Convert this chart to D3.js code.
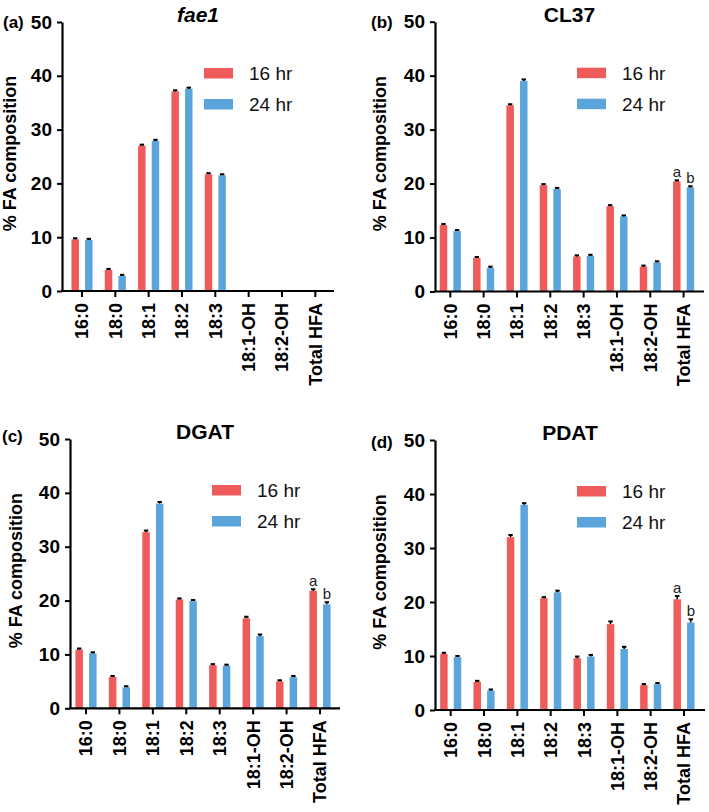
<!DOCTYPE html>
<html>
<head>
<meta charset="utf-8">
<script src="https://cdn.jsdelivr.net/npm/d3@7"></script>
<style>
  html, body { margin: 0; padding: 0; background: #ffffff; }
  svg { display: block; }
  text { font-family: "Liberation Sans", Arial, sans-serif; }
</style>
</head>
<body>
<svg id="chart" width="709" height="812"></svg>
<script>
// ---------------- data ----------------
const categories = ["16:0", "18:0", "18:1", "18:2", "18:3", "18:1-OH", "18:2-OH", "Total HFA"];
const seriesNames = ["16 hr", "24 hr"];
const yTickValues = [0, 10, 20, 30, 40, 50];

const fae1_16hr = [9.6, 3.9, 27.0, 37.1, 21.7, 0, 0, 0];
const fae1_24hr = [9.5, 2.8, 27.9, 37.6, 21.5, 0, 0, 0];
const fae1_err16 = [0.2, 0.2, 0.2, 0.2, 0.2, 0, 0, 0];
const fae1_err24 = [0.2, 0.2, 0.2, 0.2, 0.2, 0, 0, 0];

const cl37_16hr = [12.3, 6.2, 34.5, 19.7, 6.5, 15.8, 4.6, 20.4];
const cl37_24hr = [11.2, 4.4, 39.0, 19.0, 6.6, 13.9, 5.4, 19.3];
const cl37_err16 = [0.2, 0.2, 0.2, 0.2, 0.2, 0.2, 0.2, 0.2];
const cl37_err24 = [0.2, 0.2, 0.3, 0.2, 0.2, 0.2, 0.2, 0.2];

const dgat_16hr = [10.9, 5.8, 32.7, 20.2, 8.0, 16.7, 5.0, 21.8];
const dgat_24hr = [10.2, 3.9, 38.0, 19.9, 7.9, 13.4, 5.8, 19.3];
const dgat_err16 = [0.2, 0.2, 0.3, 0.2, 0.2, 0.3, 0.2, 0.3];
const dgat_err24 = [0.2, 0.2, 0.3, 0.2, 0.2, 0.3, 0.2, 0.4];

const pdat_16hr = [10.4, 5.2, 32.0, 20.7, 9.6, 15.9, 4.6, 20.5];
const pdat_24hr = [9.8, 3.6, 38.0, 21.8, 9.9, 11.3, 4.8, 16.2];
const pdat_err16 = [0.2, 0.2, 0.4, 0.2, 0.3, 0.5, 0.2, 0.6];
const pdat_err24 = [0.2, 0.2, 0.3, 0.3, 0.3, 0.4, 0.2, 0.6];

const sigLetters = ["a", "b"];   // Total HFA letters (16 hr, 24 hr)

const panelTitles = ["fae1", "CL37", "DGAT", "PDAT"];
const panelLabels = ["(a)", "(b)", "(c)", "(d)"];

// ---------------- styling / layout ----------------
const colors = ["#EF5A5A", "#5CA5DC"];
const layouts = [
  { axisX: 62,  c0: 82,    step: 33.33, axisEnd: 334, yZero: 291,   yTop: 22,   labelX: 3,   labelY: 28,  ylabX: 10 },
  { axisX: 435, c0: 450.3, step: 33.33, axisEnd: 704, yZero: 291.5, yTop: 21.7, labelX: 371, labelY: 28,  ylabX: 380 },
  { axisX: 70,  c0: 86,    step: 33.43, axisEnd: 340, yZero: 708.3, yTop: 439,  labelX: 2,   labelY: 442, ylabX: 15.5 },
  { axisX: 435, c0: 450.7, step: 33.33, axisEnd: 705, yZero: 710,   yTop: 440,  labelX: 371, labelY: 448, ylabX: 380 }
];
const panelData = [
  { v: [fae1_16hr, fae1_24hr], e: [fae1_err16, fae1_err24], letters: false, italic: true },
  { v: [cl37_16hr, cl37_24hr], e: [cl37_err16, cl37_err24], letters: true,  italic: false },
  { v: [dgat_16hr, dgat_24hr], e: [dgat_err16, dgat_err24], letters: true,  italic: false },
  { v: [pdat_16hr, pdat_24hr], e: [pdat_err16, pdat_err24], letters: true,  italic: false }
];

const svg = d3.select("#chart");

panelData.forEach((pd, pi) => {
  const L = layouts[pi];
  const g = svg.append("g");

  const y = d3.scaleLinear().domain([0, 50]).range([L.yZero, L.yTop]);
  const x = d3.scaleBand().domain(categories)
    .range([L.c0 - L.step / 2, L.c0 - L.step / 2 + L.step * categories.length])
    .paddingInner(0).paddingOuter(0);
  const xs = d3.scaleBand().domain(seriesNames).range([0, x.bandwidth()])
    .paddingInner(0.45).paddingOuter(0.45);

  // bars
  seriesNames.forEach((s, si) => {
    const rows = categories.map((c, i) => ({ c, v: pd.v[si][i], e: pd.e[si][i] })).filter(d => d.v > 0);
    g.selectAll(null).data(rows).enter().append("rect")
      .attr("x", d => x(d.c) + xs(s))
      .attr("y", d => y(d.v))
      .attr("width", xs.bandwidth())
      .attr("height", d => y(0) - y(d.v))
      .attr("fill", colors[si]);
    // error bars
    const eg = g.selectAll(null).data(rows).enter().append("g");
    eg.append("line")
      .attr("x1", d => x(d.c) + xs(s) + xs.bandwidth() / 2)
      .attr("x2", d => x(d.c) + xs(s) + xs.bandwidth() / 2)
      .attr("y1", d => y(d.v))
      .attr("y2", d => y(d.v + d.e))
      .attr("stroke", "#000").attr("stroke-width", 1.5);
    eg.append("line")
      .attr("x1", d => x(d.c) + xs(s) + xs.bandwidth() / 2 - 2.2)
      .attr("x2", d => x(d.c) + xs(s) + xs.bandwidth() / 2 + 2.2)
      .attr("y1", d => y(d.v + d.e))
      .attr("y2", d => y(d.v + d.e))
      .attr("stroke", "#000").attr("stroke-width", 2);
    if (pd.letters) {
      const i = categories.length - 1;
      g.append("text")
        .attr("x", x(categories[i]) + xs(s) + xs.bandwidth() / 2)
        .attr("y", y(pd.v[si][i] + pd.e[si][i]) - 3)
        .attr("text-anchor", "middle")
        .attr("font-size", 15)
        .attr("fill", "#222")
        .text(sigLetters[si]);
    }
  });

  // y axis
  const yAxis = d3.axisLeft(y).tickValues(yTickValues).tickSize(5).tickSizeOuter(0).tickPadding(5);
  const ya = g.append("g").attr("transform", `translate(${L.axisX},0)`).call(yAxis);
  ya.select(".domain").attr("stroke-width", 2.2).attr("stroke", "#000");
  ya.selectAll(".tick line").attr("stroke-width", 2).attr("stroke", "#000");
  ya.selectAll(".tick text").attr("font-size", 19).attr("font-weight", "bold")
    .attr("font-family", "'Liberation Sans', Arial, sans-serif").attr("fill", "#000");

  // x axis
  const xAxis = d3.axisBottom(x).tickSize(6).tickSizeOuter(0).tickPadding(0);
  const xa = g.append("g").attr("transform", `translate(0,${L.yZero})`).call(xAxis);
  xa.select(".domain").remove();
  xa.insert("line", ":first-child")
    .attr("x1", L.axisX - 1).attr("x2", L.axisEnd).attr("y1", 0).attr("y2", 0)
    .attr("stroke", "#000").attr("stroke-width", 2.2);
  xa.selectAll(".tick line").attr("stroke-width", 2).attr("stroke", "#000");
  xa.selectAll(".tick text")
    .attr("font-size", 18).attr("font-weight", "bold")
    .attr("font-family", "'Liberation Sans', Arial, sans-serif").attr("fill", "#000")
    .attr("text-anchor", "end")
    .attr("transform", "rotate(-90)")
    .attr("x", -12).attr("y", 0).attr("dy", "0.36em");

  // y axis title
  g.append("text")
    .attr("transform", `translate(${L.ylabX},${(L.yZero + L.yTop) / 2 - 3}) rotate(-90)`)
    .attr("text-anchor", "middle").attr("dy", "0.36em")
    .attr("font-size", 18).attr("font-weight", "bold")
    .text("% FA composition");

  // panel title
  g.append("text")
    .attr("x", (L.axisX + L.axisEnd) / 2).attr("y", L.yTop)
    .attr("text-anchor", "middle")
    .attr("font-size", 21).attr("font-weight", "bold")
    .attr("font-style", pd.italic ? "italic" : "normal")
    .text(panelTitles[pi]);

  // panel label
  g.append("text")
    .attr("x", L.labelX).attr("y", L.labelY)
    .attr("font-size", 17).attr("font-weight", "bold")
    .text(panelLabels[pi]);

  // legend
  const lg = g.append("g").attr("transform", `translate(${L.axisX + 142},${L.yTop + 46})`);
  seriesNames.forEach((s, si) => {
    lg.append("rect").attr("x", 0).attr("y", si * 31).attr("width", 29).attr("height", 10.5)
      .attr("fill", colors[si]);
    lg.append("text").attr("x", 45).attr("y", si * 31 + 5.25).attr("dy", "0.36em")
      .attr("font-size", 19).attr("fill", "#111").text(s);
  });
});
</script>
</body>
</html>
